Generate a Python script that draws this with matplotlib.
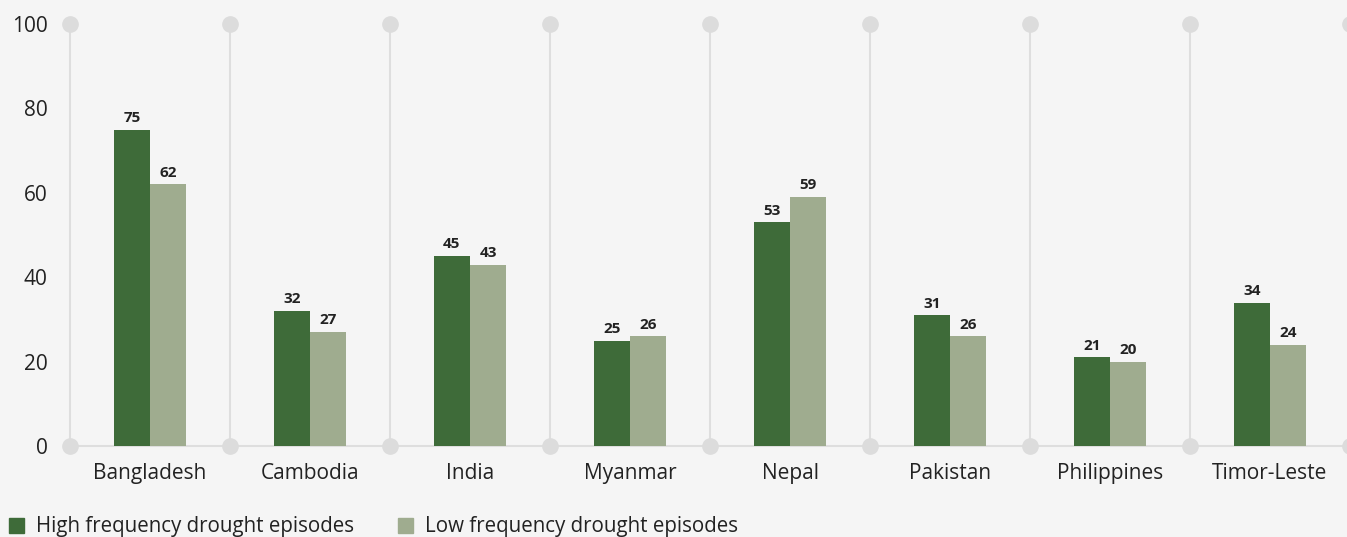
import numpy as np
import matplotlib.pyplot as plt
from matplotlib.patches import Patch

# ── data ─────────────────────────────────────────────────────────────────────
countries = ["Bangladesh", "Cambodia", "India", "Myanmar",
             "Nepal", "Pakistan", "Philippines", "Timor-Leste"]
high_freq = [75, 32, 45, 25, 53, 31, 21, 34]
low_freq = [62, 27, 43, 26, 59, 26, 20, 24]
series_names = ["High frequency drought episodes", "Low frequency drought episodes"]
y_ticks = [0, 20, 40, 60, 80, 100]

# ── style ────────────────────────────────────────────────────────────────────
BG = "#f5f5f5"
DARK = "#3e6b39"
LIGHT = "#9fac8f"
GRID = "#dedede"
DOT = "#dcdcdc"
TEXT = "#222222"

plt.rcParams["font.family"] = ["Open Sans", "DejaVu Sans"]

fig = plt.figure(figsize=(13.47, 5.37), dpi=100, facecolor=BG)
ax = fig.add_axes([70 / 1347, 91 / 537, 1280 / 1347, 422 / 537])
ax.set_facecolor(BG)

x = np.arange(len(countries))
w = 0.228
ax.bar(x - w / 2, high_freq, w, color=DARK, zorder=3)
ax.bar(x + w / 2, low_freq, w, color=LIGHT, zorder=3)

for xi, v in zip(x - w / 2, high_freq):
    ax.text(xi, v + 1.1, f"{v}", ha="center", va="bottom",
            fontsize=11, fontweight="bold", color=TEXT)
for xi, v in zip(x + w / 2, low_freq):
    ax.text(xi, v + 1.1, f"{v}", ha="center", va="bottom",
            fontsize=11, fontweight="bold", color=TEXT)

# separators between countries, capped with dots
bounds = np.arange(len(countries) + 1) - 0.5
for b in bounds:
    ax.plot([b, b], [0, 100], color=GRID, lw=1.5, zorder=1, clip_on=False)
ax.plot(bounds, [100] * len(bounds), "o", ms=11, color=DOT, zorder=2, clip_on=False)
ax.plot(bounds, [0] * len(bounds), "o", ms=11, color=DOT, zorder=2, clip_on=False)
ax.plot([-0.5, 7.5], [0, 0], color=GRID, lw=1.5, zorder=1, clip_on=False)

ax.set_xlim(-0.5, 7.5)
ax.set_ylim(0, 100)
ax.set_xticks(x)
ax.set_xticklabels(countries, fontsize=15, color=TEXT)
ax.set_yticks(y_ticks)
ax.set_yticklabels([str(t) for t in y_ticks], fontsize=15, color=TEXT)
ax.tick_params(axis="both", length=0)
ax.tick_params(axis="x", pad=12)
ax.tick_params(axis="y", pad=16)
for s in ax.spines.values():
    s.set_visible(False)

handles = [Patch(color=DARK, label=series_names[0]),
           Patch(color=LIGHT, label=series_names[1])]
fig.legend(handles=handles, loc="lower left", bbox_to_anchor=(-0.001, -0.02),
           ncol=2, frameon=False, fontsize=14.8, handlelength=0.75, handleheight=0.75,
           handletextpad=0.55, columnspacing=2.15, labelcolor=TEXT,
           borderaxespad=0.2, borderpad=0.3)

fig.savefig("out.png", dpi=100, facecolor=BG)
